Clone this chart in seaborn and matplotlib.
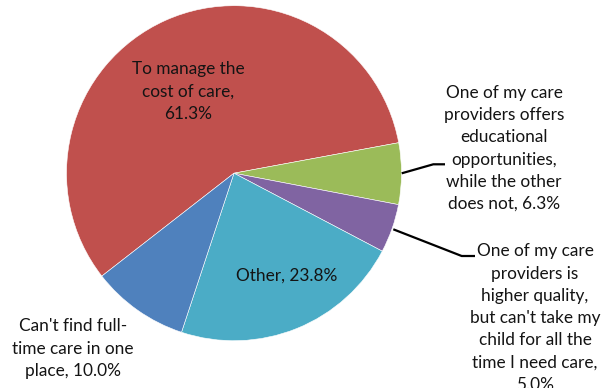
import matplotlib
matplotlib.use("Agg")
import matplotlib.pyplot as plt
import seaborn as sns

# Reasons for using more than one child care arrangement (% of respondents)
categories = [
    "To manage the\ncost of care",
    "One of my care\nproviders offers\neducational\nopportunities,\nwhile the other\ndoes not",
    "One of my care\nproviders is\nhigher quality,\nbut can't take my\nchild for all the\ntime I need care",
    "Other",
    "Can't find full-\ntime care in one\nplace",
]
values = [61.3, 6.3, 5.0, 23.8, 10.0]
value_on_new_line = [True, False, True, False, False]
colors = ["#C0504D", "#9BBB59", "#8064A2", "#4BACC6", "#4F81BD"]

sns.set_theme(style="white")
plt.rcParams["font.family"] = ["Lato", "DejaVu Sans"]

W, H = 601, 388
fig = plt.figure(figsize=(W / 100, H / 100), dpi=100)
ax = fig.add_axes([0, 0, 1, 1])


def pt(x, y):
    """Pixel position measured from the top-left corner -> axes data coords."""
    return x, H - y


cx, cy = pt(234, 173.2)
wedges, _ = ax.pie(
    values,
    colors=colors,
    startangle=217.9,
    counterclock=False,
    center=(cx, cy),
    radius=167.5,
    wedgeprops=dict(edgecolor="white", linewidth=0.4),
    frame=True,
)
ax.set_xlim(0, W)
ax.set_ylim(0, H)
ax.set_aspect("equal")
ax.axis("off")


def label(i):
    sep = ",\n" if value_on_new_line[i] else ", "
    return f"{categories[i]}{sep}{values[i]:.1f}%"


fs = 12.4
ls = 1.48
txt = dict(ha="center", va="center", fontsize=fs, linespacing=ls,
           color="#141414")
# inside labels
ax.text(*pt(188.5, 91.5), label(0), **txt)
ax.text(*pt(287, 275.5), label(3), **txt)

# outside labels
ax.text(*pt(504, 148.5), label(1), **txt)
ax.text(*pt(535, 318), label(2), **txt)
ax.text(*pt(73, 348.5), label(4), **txt)

# leader lines
g = [pt(401.7, 173.3), pt(433.3, 164.3), pt(445, 164.3)]
ax.plot([p[0] for p in g], [p[1] for p in g], color="black", lw=1.6,
        solid_capstyle="butt")
p = [pt(393.3, 229.3), pt(461.7, 256), pt(475, 256)]
ax.plot([q[0] for q in p], [q[1] for q in p], color="black", lw=1.6,
        solid_capstyle="butt")

fig.savefig("out.png", dpi=100, facecolor="white")
